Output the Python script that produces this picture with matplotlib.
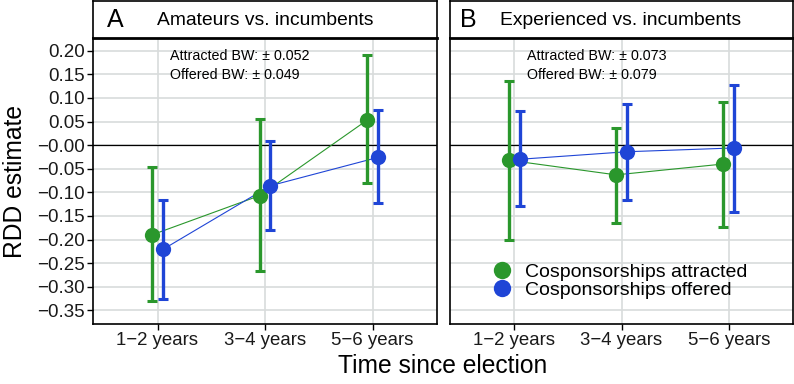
import numpy as np
import matplotlib
matplotlib.use("Agg")
import matplotlib.pyplot as plt
from matplotlib.lines import Line2D

plt.rcParams['font.family'] = ['Liberation Sans', 'DejaVu Sans']

# data
categories = ["1\u22122 years", "3\u22124 years", "5\u22126 years"]
panel_letters = ["A", "B"]
panel_titles = ["Amateurs vs. incumbents", "Experienced vs. incumbents"]
bw_attracted = ["0.052", "0.073"]
bw_offered = ["0.049", "0.079"]

# panel A
a_att_est = [-0.190, -0.107, 0.053]
a_att_lo = [-0.331, -0.267, -0.080]
a_att_hi = [-0.047, 0.055, 0.190]
a_off_est = [-0.221, -0.086, -0.026]
a_off_lo = [-0.326, -0.180, -0.123]
a_off_hi = [-0.116, 0.009, 0.074]

# panel B
b_att_est = [-0.032, -0.063, -0.040]
b_att_lo = [-0.200, -0.165, -0.174]
b_att_hi = [0.136, 0.037, 0.091]
b_off_est = [-0.030, -0.014, -0.006]
b_off_lo = [-0.130, -0.116, -0.141]
b_off_hi = [0.072, 0.088, 0.127]

green = '#2a972c'
blue = '#1f45d6'
grid_col = '#d8dcdb'

fig = plt.figure(figsize=(7.94, 3.84), dpi=100)

W, H = 794, 384
def box(x0, y0, x1, y1):
    return [x0 / W, 1 - y1 / H, (x1 - x0) / W, (y1 - y0) / H]

panels = [
    (box(93, 38, 437, 324), box(93, 0.5, 437, 38),
     (a_att_est, a_att_lo, a_att_hi), (a_off_est, a_off_lo, a_off_hi), 0.04, 0.186),
    (box(450, 38, 793, 324), box(450, 0.5, 793, 38),
     (b_att_est, b_att_lo, b_att_hi), (b_off_est, b_off_lo, b_off_hi), 0.03, 0.146),
]

x = np.arange(1, len(categories) + 1)
dodge = 0.05
yticks = np.round(np.arange(-0.35, 0.201, 0.05), 2)

for i, (rect, srect, att, off, lx, tx) in enumerate(panels):
    ax = fig.add_axes(rect)
    ax.set_xlim(0.4, 3.6)
    ax.set_ylim(-0.379, 0.227)
    for yv in yticks:
        ax.axhline(yv, color=grid_col, lw=1.2, zorder=0)
    for xv in x:
        ax.axvline(xv, color=grid_col, lw=1.2, zorder=0)
    ax.axhline(0, color='black', lw=0.9, zorder=1)

    for (est, lo, hi), col, off_x in [(att, green, -dodge), (off, blue, dodge)]:
        est = np.array(est)
        xs = x + off_x
        yerr = [est - np.array(lo), np.array(hi) - est]
        ax.plot(xs, est, color=col, lw=0.8, zorder=2)
        ax.errorbar(xs, est, yerr=yerr, fmt='none', ecolor=col, elinewidth=2.4,
                    capsize=3.5, capthick=2.2, zorder=3)
        ax.plot(xs, est, 'o', color=col, ms=11, mec='none', zorder=4)

    ax.set_xticks(x)
    ax.set_xticklabels(categories, fontsize=13.4, color='#1a1a1a')
    ax.set_yticks(yticks)
    if i == 0:
        ax.set_yticklabels([f"{v:.2f}".replace('-', '\u2212') for v in yticks],
                           fontsize=13.5, color='#1a1a1a')
        ax.tick_params(axis='y', length=4, width=1, color='black', pad=2)
    else:
        ax.tick_params(axis='y', left=False, labelleft=False)
    ax.tick_params(axis='x', length=4, width=1, color='black', pad=2)
    for s in ax.spines.values():
        s.set_linewidth(1.2)
        s.set_color('black')

    ax.text(0.224, 0.937, f"Attracted BW: \u00b1 {bw_attracted[i]}", transform=ax.transAxes,
            fontsize=10.3, va='center', ha='left')
    ax.text(0.224, 0.871, f"Offered BW: \u00b1 {bw_offered[i]}", transform=ax.transAxes,
            fontsize=10.3, va='center', ha='left')

    sax = fig.add_axes(srect)
    sax.set_xticks([])
    sax.set_yticks([])
    for s in sax.spines.values():
        s.set_linewidth(1.2)
    sax.spines['bottom'].set_linewidth(2)
    sax.text(lx, 0.47, panel_letters[i], fontsize=18, va='center', ha='left', transform=sax.transAxes)
    sax.text(tx, 0.47, panel_titles[i], fontsize=13.9, va='center', ha='left', transform=sax.transAxes)

    if i == 1:
        handles = [Line2D([], [], marker='o', ls='none', color=green, ms=12.5, mec='none'),
                   Line2D([], [], marker='o', ls='none', color=blue, ms=12.5, mec='none')]
        ax.legend(handles, ["Cosponsorships attracted", "Cosponsorships offered"],
                  loc='center left', bbox_to_anchor=(0.117, 0.150), frameon=False,
                  fontsize=14, handletextpad=0.6, labelspacing=0.0, borderpad=0,
                  handlelength=1.2, borderaxespad=0)

fig.text(15 / W, 1 - 181 / H, "RDD estimate", rotation=90, fontsize=17.7, va='center', ha='center')
fig.text(443 / W, 1 - 366 / H, "Time since election", fontsize=17.7, va='center', ha='center')

fig.savefig("out.png", dpi=100)
